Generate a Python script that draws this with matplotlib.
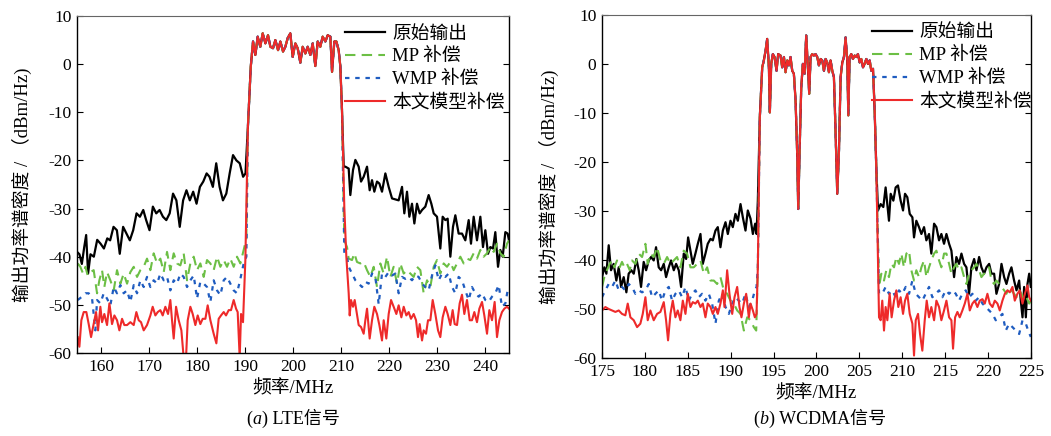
import matplotlib
matplotlib.use("Agg")
import matplotlib.pyplot as plt

plt.rcParams['font.family'] = ['Liberation Serif', 'Noto Sans CJK SC']
plt.rcParams['axes.unicode_minus'] = False

# ---------------- data: (a) LTE ----------------
lte_pass = [(190.6,-13),(191.2,-0.5),(191.67,4.7),(192.15,1.9),(192.64,5.7),(193.19,3.6),(193.68,6.4),(194.24,4.3),(194.79,6.0),(195.28,3.6),(195.83,3.3),(196.32,5.0),(196.88,2.9),(197.36,4.7),(197.92,2.6),(198.40,3.6),(198.89,5.4),(199.44,6.4),(199.93,1.5),(200.49,4.3),(200.97,3.3),(201.53,0.3),(202.01,3.6),(202.57,2.2),(203.06,3.6),(203.61,1.9),(204.10,4.3),(204.65,-0.4),(205.14,4.7),(205.69,3.6),(206.18,5.7),(206.74,4.7),(207.22,6.0),(207.78,5.7),(208.13,-1.6),(208.61,4.7),(209.03,4.7),(209.51,2.9),(209.86,-0.5),(210.2,-9.5)]

lte_black_left = [(155.0,-39),(155.5,-39.5),(156.0,-41.5),(156.5,-38),(156.9,-35.5),(157.3,-43.5),(157.8,-39.5),(158.5,-40),(159.2,-36.5),(159.9,-37.3),(160.6,-38.3),(161.3,-36.2),(161.9,-36.6),(162.6,-33.8),(163.3,-34.5),(163.9,-39.4),(164.6,-33.8),(165.3,-35.2),(166.0,-36.6),(166.7,-34.5),(167.4,-31),(168.1,-31.7),(168.8,-30.3),(169.4,-32.4),(170.1,-34.5),(170.8,-29.6),(171.5,-31),(172.2,-30.3),(172.9,-31.7),(173.6,-32.4),(174.3,-31),(175.0,-26.9),(175.7,-28.3),(176.4,-33.8),(177.1,-28.3),(177.8,-26.2),(178.5,-28.3),(179.2,-26.5),(179.9,-29),(180.6,-25.5),(181.3,-24.4),(182.0,-22.7),(182.6,-23.4),(183.3,-25.5),(184.0,-20.6),(184.7,-25.5),(185.4,-28.3),(186.1,-26.9),(186.8,-22.7),(187.5,-18.9),(188.2,-20),(188.9,-20.6),(189.6,-23.4),(190.1,-22.7)]
lte_black_right = [(210.56,-21.3),(210.90,-21.3),(211.60,-21.7),(211.94,-27.2),(212.50,-22),(212.99,-19.9),(213.68,-21.3),(214.17,-24.4),(214.72,-23.4),(215.42,-21.3),(215.97,-26.2),(216.46,-24.1),(216.94,-26.5),(217.50,-24.4),(217.99,-24.8),(218.54,-26.5),(219.24,-22.7),(219.93,-25.5),(220.63,-27.9),(221.32,-28.1),(222.01,-28.3),(222.71,-25.5),(223.19,-31),(223.75,-26.5),(224.24,-31.7),(224.79,-29),(225.28,-33.1),(225.83,-29),(226.39,-31),(226.88,-30.3),(227.57,-29.6),(228.26,-27.2),(228.82,-29),(229.31,-31),(230.0,-31.7),(230.69,-38.3),(231.18,-31.7),(231.74,-32.4),(232.22,-32.1),(232.78,-40),(233.33,-33.8),(233.82,-31.4),(234.51,-35.2),(235.21,-35.2),(235.90,-36.6),(236.60,-32.4),(237.08,-37.3),(237.64,-31.7),(238.33,-36.6),(239.03,-31.7),(239.58,-38),(240.07,-34.5),(240.63,-39.4),(241.11,-38),(241.67,-38.3),(242.15,-34.9),(242.71,-42.1),(243.19,-38.6),(243.68,-40),(244.24,-34.9),(244.72,-35.2),(245.0,-36.6)]

lte_red_left = [(155.14,-56.7),(155.49,-58.7),(155.90,-53.2),(156.39,-51.5),(156.94,-51.5),(157.43,-54),(157.92,-56.7),(158.47,-54),(158.96,-51.5),(159.38,-55.3),(159.86,-50.4),(160.21,-53.6),(160.69,-51.9),(161.25,-54.2),(161.74,-49.7),(162.29,-54),(162.78,-52.2),(163.33,-53.2),(163.82,-55.3),(164.38,-52.9),(164.86,-54.2),(165.42,-54.2),(166.11,-53.6),(166.81,-54.2),(167.36,-51.5),(167.85,-53.2),(168.33,-53.6),(168.89,-55.3),(169.58,-54.2),(170.28,-52.2),(170.76,-50.4),(171.32,-52.2),(171.81,-51.5),(172.36,-51.1),(172.85,-52.2),(173.40,-50.4),(173.96,-51.9),(174.44,-49),(174.79,-53.2),(175.14,-57),(175.63,-50.4),(176.18,-53.2),(176.74,-55.3),(177.22,-61),(177.71,-61),(178.06,-53.2),(178.61,-50.4),(179.10,-51.9),(179.65,-54.2),(180.14,-52.2),(180.69,-54),(181.18,-52.9),(181.74,-52.9),(182.22,-50.1),(182.78,-53.2),(183.47,-56),(184.03,-58),(184.51,-52.9),(185.0,-52.2),(185.56,-51.5),(186.04,-52.2),(186.60,-51.1),(187.08,-51.1),(187.64,-49),(188.13,-50.8),(188.47,-51.5),(188.89,-61),(189.17,-51.9),(189.58,-53.6),(190.07,-40.7)]
lte_red_right = [(210.69,-29.8),(211.11,-40),(211.60,-47.6),(211.81,-52.2),(212.08,-49),(212.50,-50.4),(212.85,-49),(213.19,-51.1),(213.68,-54.2),(214.17,-54.6),(214.72,-56),(215.07,-53.2),(215.42,-50.8),(215.97,-57),(216.46,-53.2),(216.94,-50.4),(217.50,-51.9),(217.99,-54.2),(218.54,-57.4),(218.89,-53.2),(219.44,-57),(219.93,-51.9),(220.42,-49),(220.97,-50.4),(221.53,-51.9),(222.01,-50.1),(222.57,-52.6),(223.06,-50.4),(223.61,-52.2),(224.10,-51.5),(224.58,-52.9),(225.14,-51.9),(225.63,-53.2),(226.04,-56.7),(226.39,-54),(226.88,-57.4),(227.22,-55.3),(227.71,-56),(228.13,-53.2),(228.61,-53.2),(229.10,-49),(229.65,-51.9),(230.21,-55.3),(230.69,-56.7),(231.18,-52.6),(231.74,-50.4),(232.22,-51.9),(232.78,-54.2),(233.26,-51.1),(233.68,-54),(234.17,-54.2),(234.72,-49.7),(235.21,-47.9),(235.69,-51.9),(236.25,-49),(236.81,-53.2),(237.29,-53.2),(237.78,-51.5),(238.33,-53.6),(238.82,-50.8),(239.38,-49.4),(239.86,-52.2),(240.42,-56),(240.90,-51.1),(241.46,-53.2),(242.01,-49.4),(242.50,-56.7),(242.99,-53.2),(243.54,-51.5),(244.03,-50.8),(244.58,-50.4),(245.0,-50.8)]

lte_green_left = [(155.14,-41.4),(155.69,-42.1),(156.25,-43.5),(156.74,-42.1),(157.22,-43.9),(157.78,-43.2),(158.47,-42.8),(159.17,-47.6),(159.65,-44.9),(160.21,-42.8),(160.69,-46.3),(161.25,-43.2),(161.94,-44.9),(162.64,-47),(163.33,-42.8),(164.03,-45.6),(164.72,-43.5),(165.42,-45.6),(166.11,-43.2),(166.81,-42.1),(167.50,-44.2),(168.19,-42.8),(168.89,-42.1),(169.58,-40.4),(170.28,-42.8),(170.97,-39.3),(171.67,-41.4),(172.36,-40.4),(173.06,-43.2),(173.75,-39),(174.44,-42.8),(175.14,-39.3),(175.83,-41.4),(176.53,-41.8),(177.22,-39.3),(177.92,-44.9),(178.61,-41.4),(179.31,-40),(180.0,-42.8),(180.69,-41.4),(181.39,-44.2),(182.08,-40.7),(182.78,-41.4),(183.47,-42.8),(184.17,-40),(184.86,-42.1),(185.56,-40.7),(186.25,-42.1),(186.94,-40.4),(187.64,-42.1),(188.33,-40),(189.03,-41.4),(189.72,-38.6),(190.28,-36.2)]
lte_green_right = [(210.69,-36.6),(211.25,-38),(211.60,-40.4),(212.29,-40.7),(212.78,-39.3),(213.33,-41.1),(214.03,-41.4),(214.72,-41.1),(215.42,-42.8),(216.11,-44.2),(216.81,-42.1),(217.50,-46.3),(218.19,-41.4),(218.89,-43.5),(219.58,-40),(220.28,-44.2),(220.97,-42.1),(221.67,-45.6),(222.36,-41.4),(223.06,-43.5),(223.75,-42.8),(224.44,-43.5),(225.14,-44.2),(225.83,-42.1),(226.53,-42.8),(227.22,-47.6),(227.92,-44.9),(228.61,-46.3),(229.31,-42.1),(230.0,-40.7),(230.69,-43.5),(231.39,-41.4),(232.08,-42.1),(232.78,-41.1),(233.47,-42.8),(234.17,-41.4),(234.86,-40),(235.56,-41.4),(236.25,-40.4),(236.94,-40.7),(237.64,-39.3),(238.33,-40.4),(239.03,-38.6),(239.72,-40),(240.42,-39.3),(241.11,-38),(241.81,-39),(242.50,-37.3),(243.19,-39.3),(243.89,-40),(244.58,-37.3),(245.0,-36.6)]

lte_blue_left = [(155.14,-49),(156.04,-48.3),(156.74,-47.6),(157.43,-47.6),(158.13,-48.7),(158.82,-55.3),(159.17,-49),(159.86,-49.7),(160.56,-47.6),(161.25,-48.7),(161.94,-50.1),(162.64,-46.3),(163.33,-47.6),(164.03,-45.9),(164.72,-47.6),(165.42,-47),(166.11,-49.4),(166.81,-45.9),(167.50,-47.6),(168.19,-44.9),(168.89,-46.3),(169.58,-44.2),(170.28,-46.3),(170.97,-44.9),(171.67,-45.6),(172.36,-43.5),(173.06,-44.9),(173.75,-44.2),(174.44,-47),(175.14,-44.9),(175.83,-45.6),(176.53,-43.5),(177.22,-44.2),(177.92,-46.3),(178.61,-44.9),(179.31,-43.9),(180.0,-48.7),(180.69,-45.2),(181.39,-45.6),(182.08,-46.3),(182.78,-49.4),(183.47,-44.9),(184.17,-47),(184.86,-48),(185.56,-44.9),(186.25,-44.2),(186.94,-45.6),(187.64,-47),(188.33,-47.6),(189.03,-44.6),(189.72,-41.4),(190.28,-40)]
lte_blue_right = [(210.69,-39.3),(211.25,-40),(211.60,-42.1),(212.29,-43.5),(212.99,-44.9),(213.68,-45.6),(214.38,-46.3),(215.07,-45.2),(215.76,-45.6),(216.46,-43.5),(217.15,-44.2),(217.85,-49.9),(218.54,-43.5),(219.24,-44.2),(219.93,-43.2),(220.63,-43.9),(221.32,-43.5),(222.01,-47.6),(222.71,-44.2),(223.40,-44.6),(224.10,-44.2),(224.79,-44.9),(225.49,-43.9),(226.18,-44.2),(226.88,-45.6),(227.57,-46.3),(228.26,-47),(228.96,-43.9),(229.65,-41.8),(230.35,-44.9),(231.04,-43.5),(231.74,-44.2),(232.43,-43.5),(233.13,-46.3),(233.82,-47.6),(234.51,-44.2),(235.21,-44.9),(235.90,-47),(236.60,-49),(237.29,-46.3),(237.99,-47.6),(238.68,-48.3),(239.38,-47.6),(240.07,-49),(240.76,-49.4),(241.46,-48.3),(242.15,-47.6),(242.85,-45.9),(243.54,-50.4),(244.24,-49.7),(244.72,-47),(245.0,-46.3)]

# ---------------- data: (b) WCDMA ----------------
wc_pass = [(193.40,-10.9),(193.68,-0.7),(193.87,0.7),(194.07,2.7),(194.26,5.1),(194.46,-0.7),(194.57,-9.9),(194.73,0),(194.92,2.0),(195.12,1.4),(195.35,-1.4),(195.54,2.0),(195.82,1.7),(196.01,-0.7),(196.21,1.4),(196.40,-1.7),(196.60,0.7),(196.79,-0.3),(196.98,1.4),(197.18,-1.4),(197.37,-2.0),(197.57,-7.5),(197.76,-18.4),(197.88,-29.6),(198.04,-17.7),(198.23,-4.8),(198.42,0),(198.62,-2.0),(198.81,5.8),(199.01,-0.7),(199.16,-6.1),(199.32,1.4),(199.51,2.0),(199.71,1.7),(199.90,2.0),(200.10,1.4),(200.29,-0.3),(200.49,1.0),(200.68,0.7),(200.88,-1.4),(201.07,1.0),(201.26,0.3),(201.46,-1.7),(201.65,0.7),(201.85,-1.4),(202.04,-2.7),(202.24,-14.3),(202.43,-26.5),(202.63,-17.7),(202.82,-2.7),(203.02,0.3),(203.21,1.4),(203.40,5.4),(203.60,0.7),(203.72,-10.5),(203.87,1.4),(204.07,2.0),(204.26,1.0),(204.46,1.7),(204.65,1.4),(204.84,2.0),(205.04,0.3),(205.23,1.0),(205.43,-0.7),(205.62,0),(205.82,1.0),(206.01,0),(206.21,0.7),(206.40,-1.4),(206.60,-1.0),(206.79,-9.5),(206.98,-21.1)]

wc_black_left = [(175.0,-43.5),(175.27,-41.5),(175.51,-42.8),(175.78,-37),(176.05,-42.1),(176.36,-40.8),(176.67,-44.2),(176.95,-41.5),(177.22,-45.5),(177.53,-43.5),(177.84,-46.6),(178.11,-42.8),(178.42,-42.1),(178.70,-42.8),(179.01,-39.8),(179.28,-42.1),(179.55,-45.5),(179.86,-40.4),(180.14,-42.1),(180.45,-40.1),(180.72,-39.4),(181.03,-40.1),(181.30,-37.4),(181.61,-41.5),(181.89,-42.1),(182.20,-40.8),(182.47,-43.5),(182.78,-41.5),(183.05,-40.1),(183.37,-42.1),(183.64,-40.8),(183.95,-42.1),(184.22,-45.5),(184.53,-38.7),(184.81,-39.8),(185.04,-35.4),(185.31,-38.1),(185.58,-40.8),(185.89,-38.7),(186.17,-36.7),(186.48,-34.7),(186.75,-40.8),(187.06,-38.7),(187.33,-36.7),(187.65,-35.7),(187.92,-36),(188.23,-34),(188.50,-33.3),(188.81,-37.4),(189.09,-34),(189.40,-32.3),(189.67,-34.7),(189.98,-32),(190.25,-33.3),(190.56,-30.6),(190.84,-32),(191.15,-28.6),(191.42,-31.3),(191.73,-34),(192.00,-29.9),(192.32,-31.6),(192.59,-34.7),(192.86,-32.6),(193.02,-34.7),(193.17,-27.9)]
wc_black_right = [(207.18,-29.9),(207.49,-28.6),(207.80,-29.2),(208.07,-25.2),(208.27,-28.6),(208.46,-32),(208.66,-26.5),(208.97,-27.9),(209.24,-25.2),(209.51,-24.8),(209.82,-27.9),(210.10,-29.9),(210.33,-26.5),(210.60,-27.2),(210.88,-30.6),(211.19,-31.3),(211.38,-35.4),(211.65,-32),(211.96,-33.3),(212.24,-34.7),(212.55,-33.3),(212.82,-36),(213.13,-34.7),(213.40,-38.7),(213.72,-32.6),(213.99,-33.3),(214.30,-36),(214.57,-34.7),(214.88,-36.7),(215.16,-34.7),(215.47,-36.7),(215.74,-38.1),(216.05,-43.5),(216.32,-39.4),(216.63,-40.8),(216.91,-38.7),(217.22,-40.8),(217.49,-41.5),(217.80,-46.9),(218.07,-41.5),(218.39,-39.8),(218.66,-42.1),(218.97,-39.4),(219.24,-41.5),(219.55,-42.8),(219.83,-41.5),(220.14,-40.8),(220.41,-42.8),(220.72,-42.8),(220.99,-46.9),(221.30,-44.9),(221.58,-40.8),(221.89,-43.5),(222.16,-44.9),(222.47,-42.8),(222.74,-41.5),(223.05,-44.2),(223.33,-46.2),(223.64,-44.2),(223.83,-48.3),(224.03,-51.7),(224.22,-45.5),(224.42,-51.7),(224.61,-44.9),(224.81,-42.8),(225.0,-45.5)]

wc_red_left = [(175.0,-50.3),(175.39,-49.6),(175.78,-50),(176.17,-50.3),(176.56,-50.6),(176.95,-50.3),(177.33,-51),(177.72,-51.3),(178.0,-48.9),(178.31,-51.7),(178.70,-52.3),(179.09,-53.7),(179.47,-53),(179.75,-51),(180.06,-47.6),(180.33,-52.3),(180.64,-50.3),(181.03,-52.3),(181.42,-51),(181.81,-50.6),(182.20,-48.6),(182.47,-52.3),(182.70,-56.4),(182.98,-51),(183.25,-48.3),(183.56,-51.7),(183.83,-50.3),(184.14,-52.3),(184.42,-48.3),(184.73,-51),(185.0,-46.9),(185.31,-49.6),(185.58,-48.6),(185.89,-48.9),(186.17,-48.3),(186.48,-49.6),(186.75,-48.9),(187.06,-51.7),(187.33,-48.9),(187.65,-49.6),(187.92,-51),(188.23,-49.6),(188.50,-51),(188.81,-48.9),(189.09,-46.2),(189.28,-49.6),(189.59,-42.1),(189.86,-46.9),(190.18,-51),(190.45,-47.6),(190.76,-45.5),(191.03,-49.6),(191.26,-51.7),(191.54,-48.9),(191.81,-46.9),(192.12,-51.7),(192.32,-48.9),(192.59,-50.3),(192.82,-51.7),(193.02,-51),(193.17,-41.5)]
wc_red_right = [(207.30,-51.7),(207.49,-52.3),(207.68,-48.3),(207.88,-54.4),(208.07,-49.6),(208.27,-52.3),(208.54,-46.9),(208.77,-51.7),(209.05,-48.3),(209.32,-46.2),(209.55,-49.6),(209.82,-47.6),(210.10,-51),(210.33,-48.3),(210.60,-46.9),(210.88,-51),(211.19,-53),(211.38,-59.5),(211.58,-52.3),(211.85,-51),(212.08,-55.1),(212.35,-58.5),(212.63,-52.3),(212.86,-48.3),(213.13,-51.7),(213.40,-49.6),(213.72,-52.3),(213.99,-48.3),(214.30,-49.6),(214.57,-52.3),(214.88,-50.3),(215.16,-48.3),(215.47,-51.7),(215.74,-52.3),(215.93,-58.1),(216.17,-51.7),(216.44,-50.6),(216.71,-51.7),(217.02,-50.3),(217.30,-48.9),(217.61,-46.9),(217.88,-50.3),(218.19,-48.9),(218.46,-48.3),(218.77,-49.6),(219.05,-48.3),(219.36,-48),(219.63,-48.9),(219.94,-46.9),(220.21,-48.9),(220.53,-49.6),(220.80,-48.3),(221.11,-48.9),(221.38,-50.3),(221.69,-48.3),(221.97,-46.9),(222.28,-46.2),(222.55,-46.6),(222.86,-45.5),(223.13,-48.3),(223.44,-46.9),(223.72,-46.2),(224.03,-48.9),(224.30,-46.9),(224.61,-45.2),(224.81,-47.6),(225.0,-48.3)]

wc_green_left = [(175.0,-45.5),(175.27,-43.5),(175.58,-42.1),(175.89,-40.8),(176.17,-40.1),(176.44,-41.5),(176.75,-40.1),(177.06,-41.5),(177.33,-40.4),(177.61,-41.5),(177.92,-40.8),(178.23,-42.1),(178.50,-40.1),(178.89,-40.8),(179.28,-38.7),(179.67,-39.4),(180.06,-36.7),(180.33,-40.8),(180.64,-38.7),(181.03,-39.4),(181.42,-37.4),(181.81,-40.1),(182.20,-40.8),(182.59,-39.4),(182.98,-40.8),(183.37,-40.1),(183.75,-39.4),(184.14,-41.5),(184.53,-38.1),(184.92,-38.7),(185.31,-41.5),(185.70,-41.5),(186.09,-40.8),(186.48,-40.1),(186.87,-42.8),(187.26,-41.5),(187.65,-44.2),(188.04,-44.2),(188.42,-44.9),(188.81,-43.5),(189.20,-46.2),(189.59,-46.9),(189.98,-48.3),(190.37,-48.9),(190.76,-50.3),(191.15,-51),(191.54,-54.4),(191.93,-51.7),(192.32,-52.3),(192.70,-53.7),(192.98,-54.4),(193.17,-41.5)]
wc_green_right = [(207.30,-45.5),(207.57,-42.8),(207.88,-44.2),(208.15,-42.1),(208.46,-43.5),(208.74,-40.8),(209.05,-41.5),(209.32,-39.4),(209.63,-40.8),(209.90,-38.7),(210.21,-41.5),(210.49,-38.7),(210.80,-38.1),(211.07,-42.1),(211.38,-44.2),(211.65,-42.1),(211.96,-43.5),(212.24,-41.5),(212.55,-40.1),(212.82,-43.5),(213.13,-41.5),(213.40,-40.1),(213.72,-38.7),(213.99,-38.1),(214.30,-40.1),(214.57,-41.5),(214.88,-38.7),(215.16,-38.7),(215.47,-40.8),(215.74,-42.8),(216.05,-41.5),(216.32,-40.8),(216.63,-42.1),(216.91,-41.5),(217.22,-43.5),(217.49,-44.9),(217.80,-42.8),(218.07,-42.1),(218.39,-41.5),(218.66,-40.8),(218.97,-42.1),(219.24,-43.5),(219.55,-42.8),(219.83,-42.1),(220.14,-41.5),(220.41,-44.2),(220.72,-44.9),(220.99,-44.2),(221.30,-44.9),(221.58,-45.5),(221.89,-46.2),(222.16,-46.9),(222.47,-45.5),(222.74,-46.2),(223.05,-46.9),(223.33,-47.6),(223.64,-46.2),(223.91,-46.9),(224.22,-48.3),(224.49,-47.6),(224.81,-48.9),(225.0,-48.3)]

wc_blue_left = [(175.0,-47.6),(175.39,-46.2),(175.78,-44.9),(176.17,-45.5),(176.56,-44.2),(176.95,-46.2),(177.33,-45.5),(177.72,-46.2),(178.11,-44.9),(178.50,-45.5),(178.89,-46.9),(179.28,-46.2),(179.67,-46.6),(180.06,-46.2),(180.45,-44.9),(180.84,-47.6),(181.23,-46.9),(181.61,-46.2),(182.00,-48.3),(182.39,-46.2),(182.78,-45.5),(183.17,-48.3),(183.56,-46.9),(183.95,-46.2),(184.34,-47.6),(184.73,-45.5),(185.12,-48.3),(185.51,-46.9),(185.89,-46.2),(186.28,-47.6),(186.67,-46.9),(187.06,-48.3),(187.45,-46.9),(187.84,-48.9),(188.23,-53),(188.62,-48.3),(189.01,-46.9),(189.40,-49.6),(189.79,-51),(190.18,-48.9),(190.56,-47.6),(190.95,-48.3),(191.34,-48.9),(191.73,-46.9),(192.12,-49.6),(192.51,-48.3),(192.82,-46.2),(193.02,-45.5),(193.17,-41.5)]
wc_blue_right = [(207.30,-46.9),(207.68,-46.9),(208.07,-45.5),(208.46,-46.9),(208.85,-46.2),(209.24,-47.6),(209.63,-46.2),(210.02,-46.9),(210.41,-45.5),(210.80,-46.9),(211.19,-44.2),(211.58,-46.9),(211.96,-47.6),(212.35,-48.3),(212.74,-46.9),(213.13,-45.5),(213.52,-47.6),(213.91,-46.9),(214.30,-46.2),(214.69,-47.6),(215.08,-46.2),(215.47,-46.9),(215.86,-46.2),(216.25,-46.9),(216.63,-48.3),(217.02,-46.9),(217.41,-46.2),(217.80,-47.6),(218.19,-46.9),(218.58,-48.3),(218.97,-47.6),(219.36,-48.9),(219.75,-49.6),(220.14,-50.3),(220.53,-51),(220.91,-52.3),(221.30,-51.7),(221.69,-51),(222.08,-54.4),(222.47,-53),(222.86,-53.7),(223.25,-54.4),(223.64,-55.1),(224.03,-52.3),(224.42,-53),(224.69,-54.4),(225.0,-55.7)]

series_labels = ['原始输出', 'MP 补偿', 'WMP 补偿', '本文模型补偿']
y_label = '输出功率谱密度 / （dBm/Hz)'
x_label = '频率/MHz'
yticks = [10, 0, -10, -20, -30, -40, -50, -60]
lte_xticks = [160, 170, 180, 190, 200, 210, 220, 230, 240]
wc_xticks = [175, 180, 185, 190, 195, 200, 205, 210, 215, 220, 225]

styles = [
    dict(color='#000000', lw=1.6, ls='-'),
    dict(color='#6cbf45', lw=1.5, ls=(0, (5, 3))),
    dict(color='#1f5cc0', lw=1.6, ls=(0, (2, 2.6))),
    dict(color='#ee2a2a', lw=1.5, ls='-'),
]

def build(left, pas, right):
    pts = left + pas + right
    return [p[0] for p in pts], [p[1] for p in pts]

fig = plt.figure(figsize=(10.51, 4.36), dpi=100)
ax1 = fig.add_axes([0.0733, 0.1904, 0.411, 0.773])
ax2 = fig.add_axes([0.5728, 0.1789, 0.408, 0.787])

panels = [
    (ax1, [lte_black_left, lte_green_left, lte_blue_left, lte_red_left], lte_pass,
     [lte_black_right, lte_green_right, lte_blue_right, lte_red_right], (155, 245), lte_xticks, 12, 1.012),
    (ax2, [wc_black_left, wc_green_left, wc_blue_left, wc_red_left], wc_pass,
     [wc_black_right, wc_green_right, wc_blue_right, wc_red_right], (175, 225), wc_xticks, 10, 1.024),
]

for ax, lefts, pas, rights, xlim, xt, ylpad, legx in panels:
    for lft, rgt, st, lab in zip(lefts, rights, styles, series_labels):
        x, y = build(lft, pas, rgt)
        ax.plot(x, y, label=lab, **st)
    ax.set_xlim(*xlim)
    ax.set_ylim(-60, 10)
    ax.set_xticks(xt)
    ax.set_yticks(yticks)
    ax.tick_params(direction='in', length=4.5, width=0.8, labelsize=12.5,
                   right=True, top=False, pad=4)
    for s in ['left', 'right', 'bottom']:
        ax.spines[s].set_linewidth(1.0)
    ax.spines['top'].set_linestyle((0, (2, 1)))
    ax.spines['top'].set_color('#666666')
    ax.set_xlabel(x_label, fontsize=13.5, labelpad=4)
    ax.set_ylabel(y_label, fontsize=13.5, labelpad=ylpad)
    leg = ax.legend(loc='upper right', bbox_to_anchor=(legx, 1.0), frameon=False,
                    fontsize=13.5, handlelength=2.1, handletextpad=0.4,
                    labelspacing=0.3, borderaxespad=0.1)

# captions
def caption(x, y, letter, rest):
    t1 = fig.text(x, y, '(', fontsize=13, va='baseline')
    t2 = fig.text(0, 0, letter, fontsize=13, style='italic', va='baseline')
    t3 = fig.text(0, 0, ') ' + rest, fontsize=13, va='baseline')
    fig.canvas.draw()
    r = fig.canvas.get_renderer()
    bb1 = t1.get_window_extent(r)
    t2.set_position(((bb1.x1) / fig.bbox.width, y))
    bb2 = t2.get_window_extent(r)
    t3.set_position(((bb2.x1 + 1) / fig.bbox.width, y))

caption(246 / 1051, 1 - 424 / 436, 'a', 'LTE信号')
caption(753 / 1051, 1 - 424 / 436, 'b', 'WCDMA信号')

fig.savefig('out.png', dpi=100)
